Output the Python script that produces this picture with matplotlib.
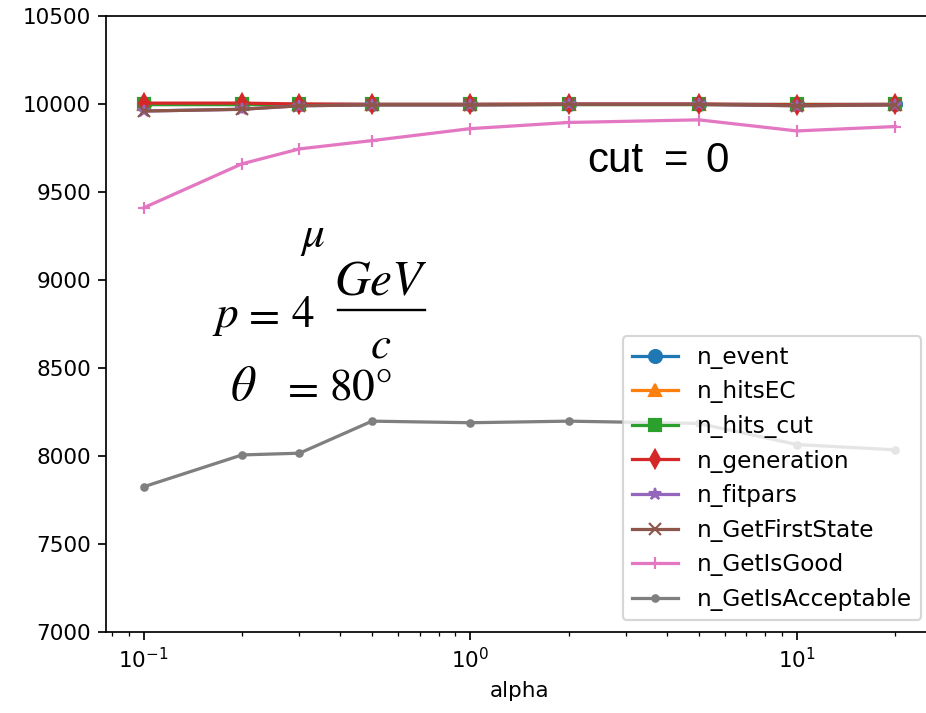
import matplotlib
matplotlib.use("Agg")
import matplotlib.pyplot as plt
from matplotlib.lines import Line2D

alpha = [0.1, 0.2, 0.3, 0.5, 1, 2, 5, 10, 20]
n_event = [10000, 10000, 10000, 10000, 10000, 10000, 10000, 10000, 10000]
n_hitsEC = [10000, 10000, 10000, 10000, 10000, 10000, 10000, 10000, 10000]
n_hits_cut = [10000, 10000, 10000, 10000, 10000, 10000, 10000, 10000, 10000]
n_generation = [10005, 10005, 10000, 9998, 9998, 10000, 10000, 9995, 9998]
n_fitpars = [9960, 9970, 9990, 9995, 9995, 9998, 9998, 9990, 9995]
n_GetFirstState = [9960, 9970, 9990, 9995, 9995, 9998, 9998, 9990, 9995]
n_GetIsGood = [9410, 9660, 9745, 9792, 9860, 9895, 9910, 9847, 9872]
n_GetIsAcceptable = [7825, 8006, 8016, 8198, 8189, 8198, 8185, 8065, 8035]

series = [
    ("n_event", n_event, "o"),
    ("n_hitsEC", n_hitsEC, "^"),
    ("n_hits_cut", n_hits_cut, "s"),
    ("n_generation", n_generation, "d"),
    ("n_fitpars", n_fitpars, "*"),
    ("n_GetFirstState", n_GetFirstState, "x"),
    ("n_GetIsGood", n_GetIsGood, "+"),
    ("n_GetIsAcceptable", n_GetIsAcceptable, "."),
]

plt.rcParams["mathtext.fontset"] = "stix"

dpi = 155
W, H = 926, 713
fig = plt.figure(figsize=(W / dpi, H / dpi), dpi=dpi)
ax = fig.add_axes([106 / W, (H - 632) / H, (933 - 106) / W, (632 - 16) / H])

for name, vals, m in series:
    ax.plot(alpha, vals, marker=m, label=name)

ax.set_xscale("log")
ax.set_ylim(7000, 10500)
ax.set_xlabel("alpha")
ax.legend(loc="lower right", fontsize=10.8, labelspacing=0.5)

def ftext(x, y, s, **kw):
    fig.text(x / W, (H - y) / H, s, **kw)

# "cut = 0"
cut_kw = dict(fontsize=19.5, family="Liberation Sans", ha="left", va="baseline")
ftext(587, 172, "cut", **cut_kw)
ftext(664, 172, "=", **cut_kw)
ftext(705, 172, "0", **cut_kw)

# math annotation
mk = dict(fontsize=21, va="baseline")
ftext(313, 247, r"$\mu$", ha="center", **mk)
ftext(212, 327, r"$p$", ha="left", **mk)
ftext(242, 327, r"$=$", ha="left", **mk)
ftext(291, 327, r"$4$", ha="left", **mk)
ftext(381, 295, r"$GeV$", ha="center", fontsize=23, va="baseline")
fig.add_artist(Line2D([338 / W, 425 / W], [(H - 310) / H, (H - 310) / H],
                      color="black", linewidth=1.1))
ftext(381, 357, r"$c$", ha="center", **mk)
ftext(230, 400, r"$\theta$", ha="left", fontsize=23, va="baseline")
ftext(281, 400, r"$=$", ha="left", **mk)
ftext(329, 400, r"$80°$", ha="left", **mk)

fig.savefig("out.png", dpi=dpi)
